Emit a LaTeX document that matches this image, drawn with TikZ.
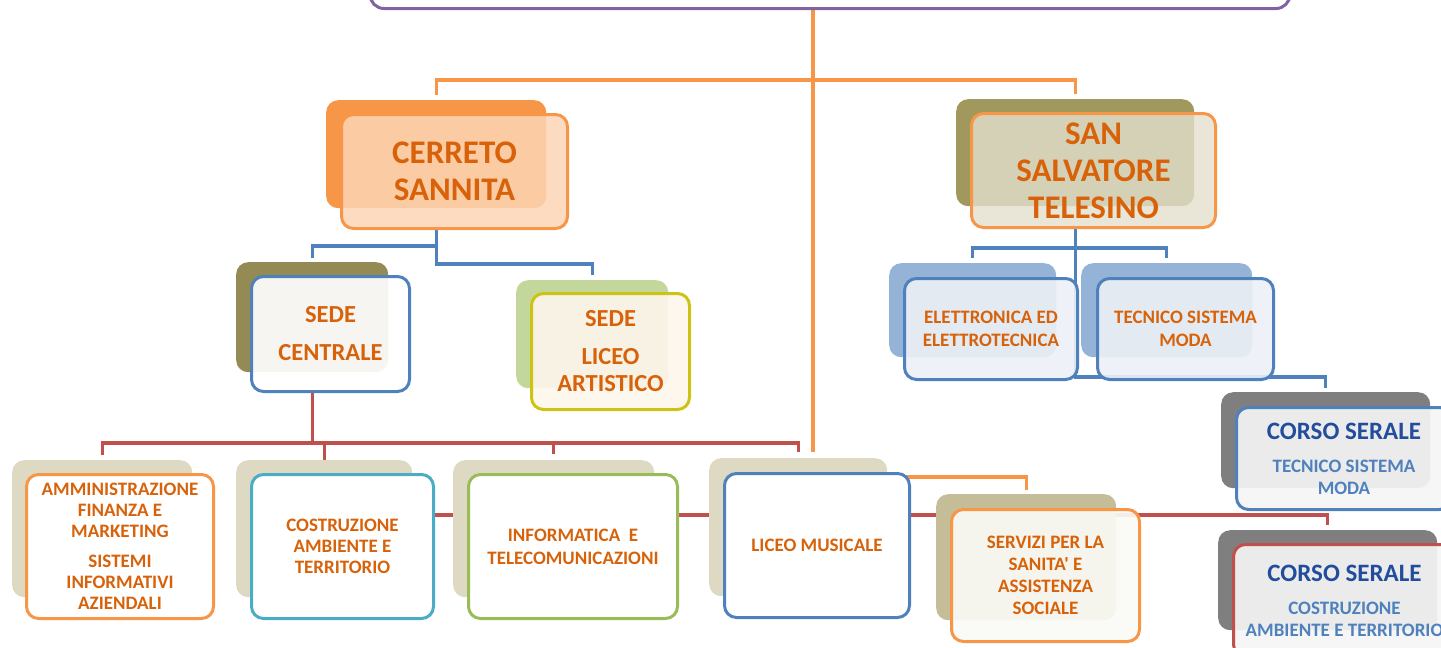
\documentclass[tikz,border=0pt]{standalone}
\usepackage{fontspec}
\setmainfont{Carlito}[Ligatures=TeXOff]
\usepackage{xcolor}
\usetikzlibrary{positioning,backgrounds}

\definecolor{accorange}{RGB}{247,150,70}
\definecolor{accpurple}{RGB}{128,100,162}
\definecolor{accblue}{RGB}{79,129,189}
\definecolor{accred}{RGB}{192,80,77}
\definecolor{accteal}{RGB}{75,172,198}
\definecolor{accgreen}{RGB}{155,187,89}
\definecolor{accyellow}{RGB}{204,196,20}
\definecolor{labelorange}{RGB}{216,98,10}
\definecolor{serdark}{RGB}{34,76,156}
\definecolor{serlight}{RGB}{79,129,189}
\definecolor{oliveA}{RGB}{148,138,84}
\definecolor{oliveB}{RGB}{160,152,92}
\definecolor{greenlt}{RGB}{195,214,155}
\definecolor{bluelt}{RGB}{149,179,215}
\definecolor{greyshd}{RGB}{127,127,127}
\definecolor{beige}{RGB}{221,217,195}
\definecolor{beigedk}{RGB}{196,189,151}

\begin{document}
\begin{tikzpicture}[
    x=1pt, y=-1pt,
    back/.style={rounded corners=12pt, anchor=north west, inner sep=0pt},
    card/.style={draw, line width=3pt, rounded corners=12pt, align=center, inner sep=2pt, text=labelorange},
    link/.style={line width=3.2pt},
    bigtxt/.style={font=\bfseries\fontsize{33}{37}\selectfont},
    sedetxt/.style={font=\bfseries\fontsize{24.5}{27}\selectfont},
    midtxt/.style={font=\bfseries\fontsize{19}{23}\selectfont},
    smalltxt/.style={font=\bfseries\fontsize{19}{21}\selectfont},
    sertxt/.style={font=\bfseries\fontsize{19}{22}\selectfont, text=serlight}
]
\useasboundingbox (0,0) rectangle (1441,648);
\clip (0,0) rectangle (1441,648);

% top box, only its lower edge shows
\node[draw=accpurple, line width=3pt, rounded corners=14pt, minimum width=920pt, minimum height=60pt, anchor=south] (iis) at (830,10) {};

% the two sites
\node[back, fill=accorange, minimum width=220pt, minimum height=108pt] (cerretoB) at (326,100) {};
\node[card, bigtxt, draw=accorange, fill={rgb,255:red,252;green,213;blue,181}, fill opacity=.85, text opacity=1,
      minimum width=226pt, minimum height=114pt, below right=13pt and 14pt of cerretoB.north west] (cerreto) {CERRETO\\SANNITA};
\node[back, fill=oliveB, minimum width=238pt, minimum height=107pt] (salvB) at (956,99) {};
\node[card, bigtxt, draw=accorange, fill={rgb,255:red,227;green,224;blue,206}, fill opacity=.8, text opacity=1,
      minimum width=244pt, minimum height=114pt, below right=13pt and 14pt of salvB.north west] (salv) {SAN\\SALVATORE\\TELESINO};

% Cerreto Sannita
\node[back, fill=oliveA, minimum width=152pt, minimum height=110pt] (sedeB) at (236,262) {};
\node[card, sedetxt, draw=accblue, fill=white, fill opacity=.92, text opacity=1,
      minimum width=158pt, minimum height=115pt, below right=13pt and 14pt of sedeB.north west] (sede) {SEDE\\[11pt]CENTRALE};
\node[back, fill=greenlt, minimum width=152pt, minimum height=108pt] (liceoB) at (516,280) {};
\node[card, sedetxt, draw=accyellow, fill={rgb,255:red,253;green,246;blue,236}, fill opacity=.9, text opacity=1,
      minimum width=158pt, minimum height=116pt, below right=12pt and 14pt of liceoB.north west] (liceo) {SEDE\\[11pt]LICEO\\ARTISTICO};

% San Salvatore Telesino
\node[back, fill=bluelt, minimum width=167pt, minimum height=94pt] (elettB) at (889,263) {};
\node[card, midtxt, draw=accblue, fill={rgb,255:red,236;green,240;blue,246}, fill opacity=.9, text opacity=1,
      minimum width=173pt, minimum height=101pt, below right=14pt and 14pt of elettB.north west] (elett) {ELETTRONICA ED\\ELETTROTECNICA};
\node[back, fill=bluelt, minimum width=171pt, minimum height=94pt] (tecB) at (1081,263) {};
\node[card, midtxt, draw=accblue, fill={rgb,255:red,236;green,240;blue,246}, fill opacity=.9, text opacity=1,
      minimum width=176pt, minimum height=101pt, below right=14pt and 15pt of tecB.north west] (tec) {TECNICO SISTEMA\\MODA};

% evening courses
\node[back, fill=greyshd, minimum width=209pt, minimum height=96pt] (corso1B) at (1221,392) {};
\node[card, sertxt, draw=accblue, fill={rgb,255:red,245;green,245;blue,245}, fill opacity=.92, text opacity=1,
      minimum width=215pt, minimum height=102pt, below right=14pt and 14pt of corso1B.north west] (corso1)
      {{\fontsize{25}{28}\selectfont\color{serdark}CORSO SERALE}\\[11pt]TECNICO SISTEMA\\MODA};
\node[back, fill=greyshd, minimum width=219pt, minimum height=100pt] (corso2B) at (1218,530) {};
\node[card, sertxt, draw=accred, fill={rgb,255:red,245;green,245;blue,245}, fill opacity=.92, text opacity=1,
      minimum width=222pt, minimum height=112pt, below right=13pt and 14pt of corso2B.north west] (corso2)
      {{\fontsize{25}{28}\selectfont\color{serdark}CORSO SERALE}\\[11pt]COSTRUZIONE\\AMBIENTE E TERRITORIO};

% courses of the main site
\node[back, fill=beige, minimum width=180pt, minimum height=137pt] (amminB) at (12,460) {};
\node[card, smalltxt, draw=accorange, fill=white, minimum width=187pt, minimum height=144pt,
      below right=13pt and 13pt of amminB.north west] (ammin)
      {AMMINISTRAZIONE\\FINANZA E\\MARKETING\\[9pt]SISTEMI\\INFORMATIVI\\AZIENDALI};
\node[back, fill=beige, minimum width=176pt, minimum height=137pt] (costrB) at (236,460) {};
\node[card, smalltxt, draw=accteal, fill=white, minimum width=182pt, minimum height=144pt,
      below right=13pt and 14pt of costrB.north west] (costr) {COSTRUZIONE\\AMBIENTE E\\TERRITORIO};
\node[back, fill=beige, minimum width=201pt, minimum height=137pt] (informB) at (453,460) {};
\node[card, midtxt, draw=accgreen, fill=white, minimum width=209pt, minimum height=144pt,
      below right=13pt and 14pt of informB.north west] (inform) {INFORMATICA\ \ E\\TELECOMUNICAZIONI};
\node[back, fill=beige, minimum width=178pt, minimum height=138pt] (musicaleB) at (709,458) {};
\node[card, smalltxt, draw=accblue, fill=white, minimum width=185pt, minimum height=144pt,
      below right=14pt and 14pt of musicaleB.north west] (musicale) {LICEO MUSICALE};
\node[back, fill=beigedk, minimum width=180pt, minimum height=126pt] (servB) at (936,494) {};
\node[card, sertxt, text=labelorange, draw=accorange, fill={rgb,255:red,250;green,250;blue,246}, fill opacity=.92, text opacity=1,
      minimum width=188pt, minimum height=132pt, below right=14pt and 14pt of servB.north west] (serv)
      {SERVIZI PER LA\\SANITA' E\\ASSISTENZA\\SOCIALE};

% connectors run behind the boxes
\begin{scope}[on background layer]
\draw[link, accorange] ([xshift=-4pt]musicale.north |- iis.south) -- ([xshift=-4pt, yshift=20pt]musicale.north);
\draw[link, accorange] ([yshift=5pt]cerretoB.north) -- ++(0,-15) -| ([yshift=5pt]salvB.north);
\draw[link, accorange] ([yshift=-5pt]musicale.north) -| ([yshift=4pt]servB.north);

\draw[link, accblue] (cerretoB.south |- cerreto.south) -- ++(0,16) -| ([yshift=4pt]sedeB.north);
\draw[link, accblue] (cerretoB.south |- cerreto.south) -- ++(0,34) -| ([yshift=5pt]liceoB.north);

\draw[link, accblue] (salvB.south |- salv.south) -- ++(0,19) -| ([yshift=5pt]elettB.north);
\draw[link, accblue] (salvB.south |- salv.south) -- ++(0,19) -| ([yshift=5pt]tecB.north);
\draw[link, accblue] (salvB.south |- salv.south) -- ++(0,148) -| ([yshift=4pt]corso1B.north);

\draw[link, accred] (sedeB.south |- sede.south) -- ++(0,50) coordinate (redfork) -| ([yshift=5pt]amminB.north);
\draw[link, accred] (redfork) -| ([yshift=5pt]costrB.north);
\draw[link, accred] (redfork) -| ([yshift=6pt]informB.north);
\draw[link, accred] (redfork) -| ([yshift=6pt]musicaleB.north);
\draw[link, accred] (redfork -| costrB.north) -- ++(0,72) -| ([yshift=5pt]corso2B.north);
\end{scope}
\end{tikzpicture}
\end{document}
